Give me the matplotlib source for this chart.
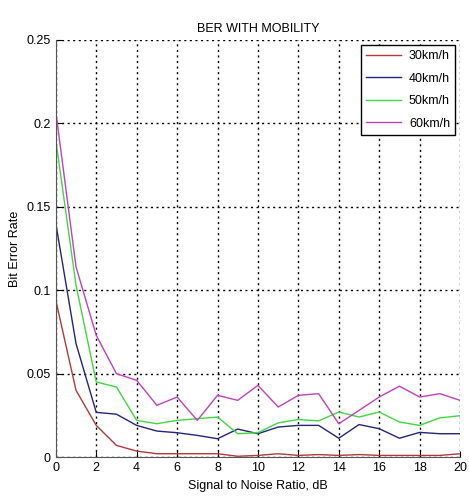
import matplotlib
matplotlib.use("Agg")
import matplotlib.pyplot as plt
import numpy as np

snr = list(range(0, 21))
ber_30 = [0.094, 0.040, 0.019, 0.007, 0.0036, 0.002, 0.002, 0.002, 0.002, 0.0005, 0.001,
          0.002, 0.001, 0.0015, 0.001, 0.0015, 0.001, 0.001, 0.001, 0.001, 0.002]
ber_40 = [0.140, 0.068, 0.0268, 0.0257, 0.019, 0.0156, 0.0146, 0.013, 0.011, 0.0168, 0.014,
          0.018, 0.019, 0.019, 0.0113, 0.0195, 0.017, 0.0113, 0.0148, 0.014, 0.014]
ber_50 = [0.190, 0.103, 0.045, 0.042, 0.022, 0.020, 0.022, 0.023, 0.024, 0.014, 0.0146,
          0.0205, 0.0225, 0.0217, 0.027, 0.024, 0.027, 0.021, 0.019, 0.0235, 0.0248]
ber_60 = [0.207, 0.114, 0.073, 0.050, 0.046, 0.031, 0.036, 0.022, 0.037, 0.034, 0.043,
          0.030, 0.037, 0.038, 0.020, 0.028, 0.036, 0.0425, 0.036, 0.038, 0.034]
labels = ["30km/h", "40km/h", "50km/h", "60km/h"]
colors = ["#b03a3a", "#24247e", "#3fd83f", "#c040c0"]

plt.rcParams['font.family'] = ['Liberation Sans', 'DejaVu Sans']

fig = plt.figure(figsize=(4.69, 4.99), dpi=100)
ax = fig.add_axes([0.119, 0.084, 0.862, 0.836])

for y, lab, c in zip([ber_30, ber_40, ber_50, ber_60], labels, colors):
    ax.plot(snr, y, color=c, lw=1.0, label=lab)

ax.set_xlim(0, 20)
ax.set_ylim(0, 0.25)
ax.set_xticks(range(0, 21, 2))
ax.set_yticks([0, 0.05, 0.1, 0.15, 0.2, 0.25])
ax.set_yticklabels(["0", "0.05", "0.1", "0.15", "0.2", "0.25"])
ax.grid(True, color="black", linestyle=(0, (1.5, 2.5)), lw=1.0)
ax.tick_params(direction="in", labelsize=9, length=4)
for s in ["top", "right"]:
    ax.spines[s].set_visible(False)
ax.spines["left"].set_color("#555555")
ax.spines["bottom"].set_color("#555555")

ax.set_title("BER WITH MOBILITY", fontsize=9)
ax.set_xlabel("Signal to Noise Ratio, dB", fontsize=9)
ax.set_ylabel("Bit Error Rate", fontsize=9)

leg = ax.legend(loc="upper right", fontsize=9, handlelength=2.8, fancybox=False,
                framealpha=1, edgecolor="black", borderaxespad=0.4, labelspacing=0.85,
                handletextpad=0.6)
leg.get_frame().set_linewidth(1.0)

fig.savefig("out.png", dpi=100)
